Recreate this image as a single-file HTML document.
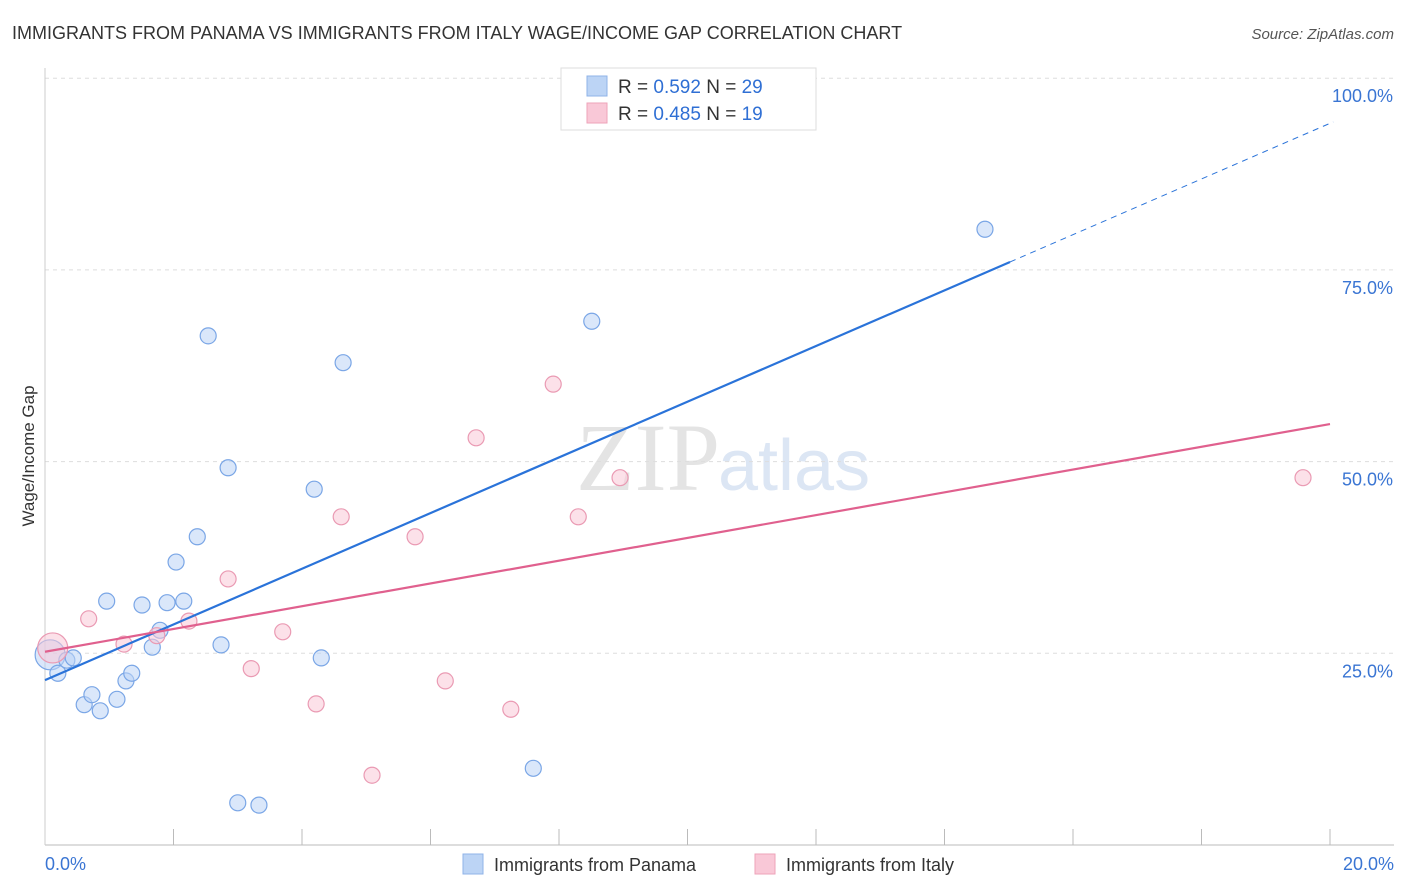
<!DOCTYPE html>
<html><head><meta charset="utf-8"><style>
body{margin:0;background:#fff;font-family:"Liberation Sans",sans-serif}
svg{display:block}
</style></head><body>
<svg id="c" width="1406" height="892" font-family="Liberation Sans, sans-serif">
<text x="12" y="39" font-size="18" fill="#333">IMMIGRANTS FROM PANAMA VS IMMIGRANTS FROM ITALY WAGE/INCOME GAP CORRELATION CHART</text>
<text x="1394" y="39" font-size="15" fill="#555" font-style="italic" text-anchor="end">Source: ZipAtlas.com</text>
<text x="720" y="490" font-size="96" fill="#e4e4e4" text-anchor="end" font-family="Liberation Serif, serif">ZIP</text>
<text x="718" y="490" font-size="72" fill="#dce6f4">atlas</text>
<text transform="translate(34,456) rotate(-90)" font-size="17" fill="#333" text-anchor="middle">Wage/Income Gap</text>
<g id="grid"></g><g id="marks"></g>
<g>
<rect x="561" y="68" width="255" height="62" fill="#fff" stroke="#ddd"/>
<rect x="587" y="76" width="20" height="20" fill="#bcd4f5" stroke="#8fb3e8"/>
<rect x="587" y="103" width="20" height="20" fill="#f9c8d7" stroke="#eea3ba"/>
<text x="618" y="93" font-size="19" fill="#333">R = <tspan fill="#2f6fd4">0.592</tspan>   N = <tspan fill="#2f6fd4">29</tspan></text>
<text x="618" y="120" font-size="19" fill="#333">R = <tspan fill="#2f6fd4">0.485</tspan>   N =  <tspan fill="#2f6fd4">19</tspan></text>
</g>
<g>
<rect x="463" y="854" width="20" height="20" fill="#bcd4f5" stroke="#8fb3e8"/>
<text x="494" y="871" font-size="18" fill="#333">Immigrants from Panama</text>
<rect x="755" y="854" width="20" height="20" fill="#f9c8d7" stroke="#eea3ba"/>
<text x="786" y="871" font-size="18" fill="#333">Immigrants from Italy</text>
</g>
</svg>
<script>
const panamaX=[0.08,0.20,0.34,0.44,0.61,0.73,0.86,0.96,1.12,1.26,1.35,1.51,1.67,1.79,1.90,2.04,2.16,2.37,2.54,2.74,2.85,3.00,3.33,4.19,4.30,4.64,7.60,8.51,14.63];
const panamaY=[24.8,22.4,24.1,24.4,18.3,19.6,17.5,31.8,19.0,21.4,22.4,31.3,25.8,28.0,31.6,36.9,31.8,40.2,66.4,26.1,49.2,5.5,5.2,46.4,24.4,62.9,10.0,68.3,80.3];
const italyX=[0.12,0.68,1.23,1.74,2.24,2.85,3.21,3.70,4.22,4.61,5.09,5.76,6.23,6.71,7.25,7.91,8.30,8.95,19.58];
const italyY=[25.7,29.5,26.2,27.3,29.2,34.7,23.0,27.8,18.4,42.8,9.1,40.2,21.4,53.1,17.7,60.1,42.8,47.9,47.9];
const yTicks=[25,50,75,100];
const yTickLabels=["25.0%","50.0%","75.0%","100.0%"];
const xTicks=[0,2,4,6,8,10,12,14,16,18,20];
const panamaTrend=[21.5,94.3];
const italyTrend=[25.2,54.9];
const NS="http://www.w3.org/2000/svg";
const X=v=>45+v/20*1285, Y=v=>845-v/25*191.7;
function mk(tag,attrs,parent){const e=document.createElementNS(NS,tag);for(const k in attrs)e.setAttribute(k,attrs[k]);parent.appendChild(e);return e;}
const g=document.getElementById('grid'), m=document.getElementById('marks');
yTicks.forEach((t,i)=>{
 const l=mk('line',{x1:45,x2:1394,y1:Y(t),y2:Y(t),stroke:'#ddd','stroke-dasharray':'4,4'},g);
 
 
 const tx=mk('text',{x:1393,y:Y(t)+24,'font-size':18,fill:'#3a75d3','text-anchor':'end'},g);
 tx.textContent=yTickLabels[i];
 
 
});
const ax=mk('line',{x1:45,x2:1394,y1:845,y2:845,stroke:'#bbb'},g);


const ay=mk('line',{x1:45,x2:45,y1:68,y2:845,stroke:'#ccc'},g);


xTicks.forEach(t=>{if(t===0)return;
 const l=mk('line',{x1:X(t),x2:X(t),y1:829,y2:845,stroke:'#bbb'},g);
 
 
});
[[0,"0.0%",'start',45],[20,"20.0%",'end',1394]].forEach(a=>{
 const tx=mk('text',{x:a[3],y:870,'font-size':18,fill:'#3a75d3','text-anchor':a[2]},g);
 tx.textContent=a[1];
 
 
});
function pts(xs,ys,fill,stroke,name){xs.forEach((x,i)=>{
 const r=(i===0)?15:8;
 const c=mk('circle',{cx:X(x),cy:Y(ys[i]),r:r,fill:fill,'fill-opacity':0.55,stroke:stroke,'stroke-width':1.2},m);
 
 
});}
pts(panamaX,panamaY,'#bcd4f5','#7aa6e6','panama-point');
pts(italyX,italyY,'#f9c8d7','#ea9ab3','italy-point');
// trends
const bx=15.02, by=panamaTrend[0]+(panamaTrend[1]-panamaTrend[0])*bx/20.05;
const b1=mk('line',{x1:X(0),y1:Y(panamaTrend[0]),x2:X(bx),y2:Y(by),stroke:'#2a73d9','stroke-width':2.2},m);


const b2=mk('line',{x1:X(bx),y1:Y(by),x2:X(20.05),y2:Y(panamaTrend[1]),stroke:'#2a73d9','stroke-width':1,'stroke-dasharray':'6,5'},m);


const p1=mk('line',{x1:X(0),y1:Y(italyTrend[0]),x2:X(20),y2:Y(italyTrend[1]),stroke:'#e0608e','stroke-width':2.2},m);


</script>
</body></html>
